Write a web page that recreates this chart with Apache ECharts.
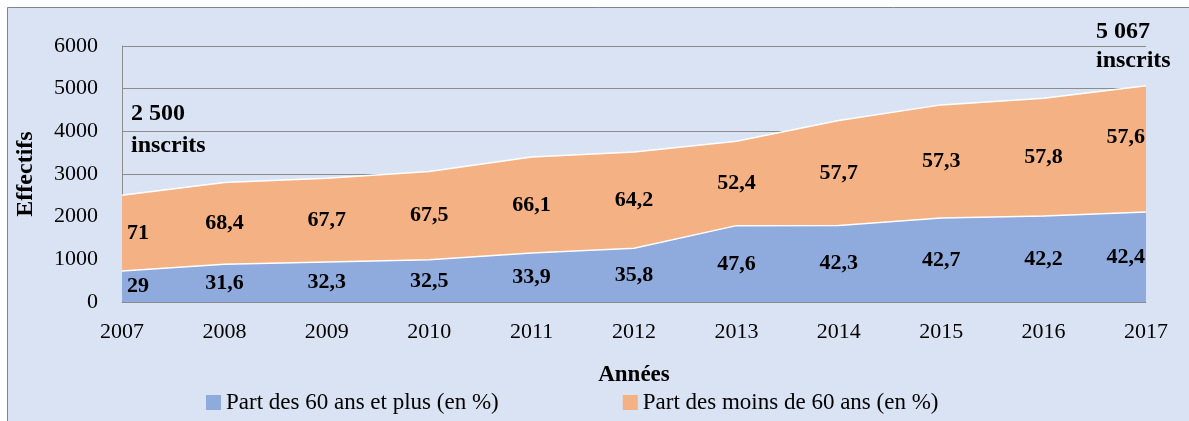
<!DOCTYPE html>
<html>
<head>
<meta charset="utf-8">
<script src="https://cdn.jsdelivr.net/npm/echarts@6/dist/echarts.min.js"></script>
<style>
  html, body { margin: 0; padding: 0; background: #fff; }
  #chart { width: 1189px; height: 421px; }
</style>
</head>
<body>
<div id="chart"></div>
<script>
// données
var years = ['2007', '2008', '2009', '2010', '2011', '2012', '2013', '2014', '2015', '2016', '2017'];
// effectifs des 60 ans et plus
var senior = [725, 885, 938, 992, 1150, 1258, 1790, 1795, 1970, 2015, 2110];
// effectifs des moins de 60 ans
var junior = [1775, 1915, 1965, 2068, 2248, 2257, 1975, 2457, 2650, 2760, 2957];
// parts en % (étiquettes)
var pctSenior = ['29', '31,6', '32,3', '32,5', '33,9', '35,8', '47,6', '42,3', '42,7', '42,2', '42,4'];
var pctJunior = ['71', '68,4', '67,7', '67,5', '66,1', '64,2', '52,4', '57,7', '57,3', '57,8', '57,6'];
var yTicks = [0, 1000, 2000, 3000, 4000, 5000, 6000];

var FONT = 'Liberation Serif';
var dom = document.getElementById('chart');
var myChart = echarts.init(dom);

// positions des étiquettes au milieu de chaque aire
function labelPoints(base, vals, pcts, lastOffset) {
    return vals.map(function (v, i) {
        var item = { value: (base ? base[i] : 0) + v / 2, pct: pcts[i] };
        if (i === 0) item.label = { align: 'left', offset: [5, 0] };
        if (i === vals.length - 1) item.label = { align: 'right', offset: [-1, lastOffset] };
        return item;
    });
}

var labelStyle = {
    show: true,
    position: 'inside',
    fontFamily: FONT,
    fontSize: 22,
    fontWeight: 'bold',
    color: '#000',
    opacity: 1,
    textBorderWidth: 0,
    formatter: function (p) { return p.data.pct; }
};

var option = {
    backgroundColor: '#dae3f3',
    animation: false,
    textStyle: { fontFamily: FONT },
    grid: { left: 122, right: 43, top: 46, bottom: 119 },
    legend: {
        data: ['Part des 60 ans et plus (en %)', 'Part des moins de 60 ans (en %)'],
        left: 201,
        top: 386,
        icon: 'rect',
        itemWidth: 15,
        itemHeight: 15,
        itemGap: 124,
        textStyle: { fontFamily: FONT, fontSize: 23, color: '#000' }
    },
    xAxis: {
        type: 'category',
        data: years,
        boundaryGap: false,
        name: 'Années',
        nameLocation: 'middle',
        nameGap: 62,
        nameTextStyle: { fontFamily: FONT, fontSize: 23, fontWeight: 'bold', color: '#000' },
        axisLine: { lineStyle: { color: '#8c8c8c' } },
        axisTick: { show: false },
        axisLabel: { fontFamily: FONT, fontSize: 22, color: '#000', margin: 19 },
        splitLine: { show: false }
    },
    yAxis: {
        type: 'value',
        min: yTicks[0],
        max: yTicks[yTicks.length - 1],
        interval: 1000,
        name: 'Effectifs',
        nameLocation: 'middle',
        nameGap: 84,
        nameTextStyle: { fontFamily: FONT, fontSize: 24, fontWeight: 'bold', color: '#000' },
        axisLine: { show: true, lineStyle: { color: '#8c8c8c' } },
        axisTick: { show: false },
        axisLabel: {
            fontFamily: FONT, fontSize: 22, color: '#000', margin: 24,
            formatter: function (v) { return String(v); }
        },
        splitLine: { lineStyle: { color: '#8c8c8c', width: 1 } }
    },
    series: [
        {
            name: 'Part des 60 ans et plus (en %)',
            type: 'line',
            stack: 'total',
            symbol: 'none',
            lineStyle: { color: '#ffffff', width: 1.5 },
            itemStyle: { color: '#8faadc' },
            areaStyle: { color: '#8faadc', opacity: 1 },
            data: senior
        },
        {
            name: 'Part des moins de 60 ans (en %)',
            type: 'line',
            stack: 'total',
            symbol: 'none',
            lineStyle: { color: '#ffffff', width: 1.5 },
            itemStyle: { color: '#f4b183' },
            areaStyle: { color: '#f4b183', opacity: 1 },
            data: junior
        },
        {
            name: 'lab60',
            type: 'scatter',
            symbolSize: 2,
            itemStyle: { color: 'rgba(0,0,0,0)', opacity: 1 },
            silent: true,
            z: 5,
            label: labelStyle,
            data: labelPoints(null, senior, pctSenior, 0)
        },
        {
            name: 'labm60',
            type: 'scatter',
            symbolSize: 2,
            itemStyle: { color: 'rgba(0,0,0,0)', opacity: 1 },
            silent: true,
            z: 5,
            label: labelStyle,
            data: labelPoints(senior, junior, pctJunior, -12)
        }
    ],
    graphic: [
        { type: 'rect', shape: { x: 0, y: 0, width: 1189, height: 7 }, style: { fill: '#ffffff' }, silent: true },
        { type: 'rect', shape: { x: 0, y: 0, width: 7, height: 421 }, style: { fill: '#ffffff' }, silent: true },
        { type: 'line', shape: { x1: 7.5, y1: 7.5, x2: 1189, y2: 7.5 }, style: { stroke: '#7a8696', lineWidth: 1 }, silent: true },
        { type: 'line', shape: { x1: 7.5, y1: 7.5, x2: 7.5, y2: 421 }, style: { stroke: '#7a8696', lineWidth: 1 }, silent: true },
        { type: 'text', left: 131, top: 102, style: { text: '2 500', font: 'bold 24px "Liberation Serif"', fill: '#000' } },
        { type: 'text', left: 131, top: 134, style: { text: 'inscrits', font: 'bold 24px "Liberation Serif"', fill: '#000' } },
        { type: 'text', left: 1096, top: 20, style: { text: '5 067', font: 'bold 24px "Liberation Serif"', fill: '#000' } },
        { type: 'text', left: 1096, top: 49, style: { text: 'inscrits', font: 'bold 24px "Liberation Serif"', fill: '#000' } }
    ]
};

if (option && typeof option === 'object') {
    myChart.setOption(option);
}
</script>
</body>
</html>
